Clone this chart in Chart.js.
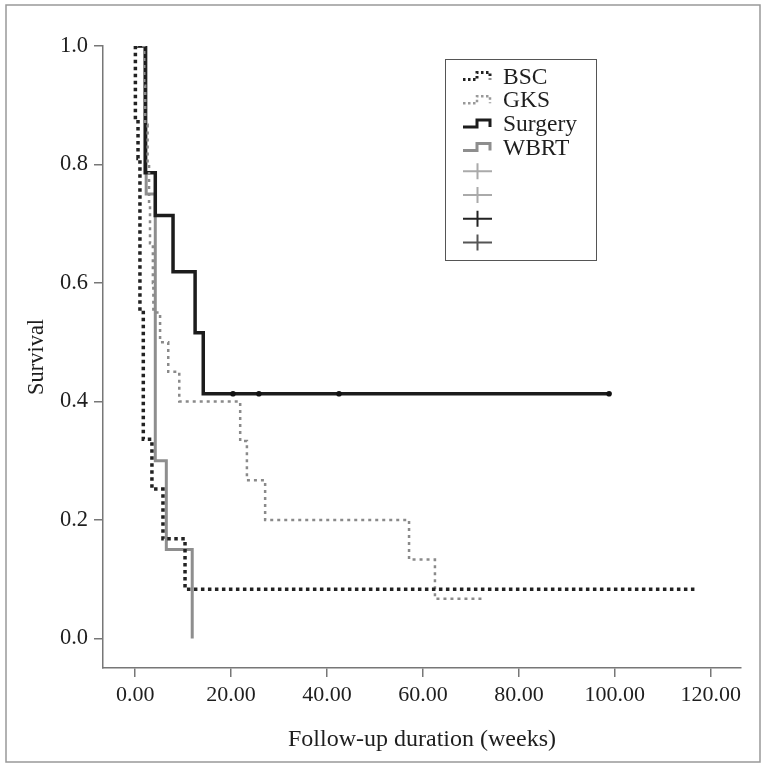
<!DOCTYPE html>
<html>
<head>
<meta charset="utf-8">
<script src="https://cdn.jsdelivr.net/npm/chart.js@4.4.0/dist/chart.umd.min.js"></script>
<style>
  body { margin: 0; background: #fff; }
  #wrap { width: 766px; height: 768px; }
</style>
</head>
<body>
<div id="wrap"><canvas id="myChart" width="766" height="768"></canvas></div>
<script>
var groupNames = ['BSC', 'GKS', 'Surgery', 'WBRT'];

// survival curves (time in weeks, survival fraction)
var bscTime = [0, 0.05, 0.6, 1.0, 1.7, 3.5, 5.8, 10.4, 117.0];
var bscSurv = [1.0, 0.875, 0.81, 0.55, 0.336, 0.252, 0.168, 0.083, 0.083];

var gksTime = [0, 1.9, 2.1, 2.6, 2.9, 3.1, 3.7, 3.8, 5.2, 6.9, 9.2, 21.9, 23.3, 27.1, 57.1, 62.5, 72.3];
var gksSurv = [1.0, 0.933, 0.867, 0.8, 0.733, 0.667, 0.6, 0.55, 0.5, 0.45, 0.4, 0.333, 0.267, 0.2, 0.133, 0.067, 0.067];

var surgTime = [0, 2.1, 4.2, 7.9, 12.5, 14.2, 20.4, 25.8, 42.5, 98.8];
var surgSurv = [1.0, 0.786, 0.714, 0.619, 0.516, 0.413, 0.413, 0.413, 0.413, 0.413];
var surgCensor = [0, 0, 0, 0, 0, 0, 1, 1, 1, 1];

var wbrtTime = [0, 2.3, 4.2, 6.5, 11.9];
var wbrtSurv = [1.0, 0.75, 0.3, 0.15, 0.0];

var xTicks = [0, 20, 40, 60, 80, 100, 120];
var yTicks = [0, 0.2, 0.4, 0.6, 0.8, 1.0];

var serif = "'Liberation Serif', 'DejaVu Serif', serif";
var textColor = '#1e1e1e';
var axisColor = '#777';

function toPoints(times, surv) {
    var pts = [];
    for (var i = 0; i < times.length; i++) {
        pts.push({ x: times[i], y: surv[i] });
    }
    return pts;
}

// legend entries: style of the little sample drawn in the box
var legendItems = [
    { label: groupNames[0], kind: 'step', color: '#222', width: 3, dash: [2.5, 2.5] },
    { label: groupNames[1], kind: 'step', color: '#999', width: 2.5, dash: [2.5, 2.5] },
    { label: groupNames[2], kind: 'step', color: '#1c1c1c', width: 3, dash: [] },
    { label: groupNames[3], kind: 'step', color: '#8e8e8e', width: 3, dash: [] },
    { label: '', kind: 'cross', color: '#aaa' },
    { label: '', kind: 'cross', color: '#aaa' },
    { label: '', kind: 'cross', color: '#222' },
    { label: '', kind: 'cross', color: '#555' }
];

var framePlugin = {
    id: 'frame',
    beforeDraw: function (chart) {
        var ctx = chart.ctx;
        ctx.save();
        ctx.fillStyle = '#fff';
        ctx.fillRect(0, 0, chart.width, chart.height);
        ctx.strokeStyle = '#999';
        ctx.lineWidth = 1.5;
        ctx.strokeRect(6, 5, 754, 757);
        ctx.restore();
    }
};

var boxLegend = {
    id: 'boxLegend',
    afterDraw: function (chart) {
        var ctx = chart.ctx;
        var bx = 445.5, by = 59.5, bw = 151, bh = 201;
        ctx.save();
        ctx.fillStyle = '#fff';
        ctx.fillRect(bx, by, bw, bh);
        ctx.strokeStyle = '#555';
        ctx.lineWidth = 1;
        ctx.strokeRect(bx, by, bw, bh);

        for (var i = 0; i < legendItems.length; i++) {
            var it = legendItems[i];
            var cy = 76.5 + i * 23.7;
            var x0 = 463;
            ctx.setLineDash([]);
            if (it.kind === 'step') {
                ctx.strokeStyle = it.color;
                ctx.lineWidth = it.width;
                ctx.setLineDash(it.dash);
                ctx.beginPath();
                ctx.moveTo(x0, cy + 3);
                ctx.lineTo(x0 + 14, cy + 3);
                ctx.lineTo(x0 + 14, cy - 4);
                ctx.lineTo(x0 + 27, cy - 4);
                ctx.lineTo(x0 + 27, cy + 3);
                ctx.stroke();
            } else {
                ctx.strokeStyle = it.color;
                ctx.lineWidth = 2;
                ctx.beginPath();
                ctx.moveTo(x0, cy);
                ctx.lineTo(x0 + 29, cy);
                ctx.moveTo(x0 + 14.5, cy - 8);
                ctx.lineTo(x0 + 14.5, cy + 8);
                ctx.stroke();
            }
            if (it.label) {
                ctx.fillStyle = textColor;
                ctx.font = '23.5px ' + serif;
                ctx.textBaseline = 'middle';
                ctx.textAlign = 'left';
                ctx.fillText(it.label, 503, cy + 1);
            }
        }
        ctx.restore();
    }
};

var config = {
    type: 'line',
    data: {
        datasets: [{
            label: groupNames[0],
            data: toPoints(bscTime, bscSurv),
            stepped: 'before',
            borderColor: '#222',
            borderWidth: 3.5,
            borderDash: [3.5, 3.5],
            pointRadius: 0,
            fill: false
        }, {
            label: groupNames[1],
            data: toPoints(gksTime, gksSurv),
            stepped: 'before',
            borderColor: '#8a8a8a',
            borderWidth: 2.5,
            borderDash: [3, 4],
            pointRadius: 0,
            fill: false
        }, {
            label: groupNames[2],
            data: toPoints(surgTime, surgSurv),
            stepped: 'before',
            borderColor: '#1c1c1c',
            borderWidth: 3.5,
            pointRadius: surgCensor.map(function (c) { return c ? 2.8 : 0; }),
            pointBackgroundColor: '#111',
            pointBorderWidth: 0,
            fill: false
        }, {
            label: groupNames[3],
            data: toPoints(wbrtTime, wbrtSurv),
            stepped: 'before',
            borderColor: '#8e8e8e',
            borderWidth: 3,
            pointRadius: 0,
            fill: false
        }]
    },
    options: {
        responsive: false,
        animation: false,
        layout: { padding: { top: 46, right: 25, bottom: 0, left: 0 } },
        plugins: {
            legend: { display: false },
            tooltip: { enabled: false }
        },
        scales: {
            x: {
                type: 'linear',
                min: -6.7,
                max: 126.3,
                afterBuildTicks: function (s) {
                    s.ticks = xTicks.map(function (v) { return { value: v }; });
                },
                afterFit: function (s) { s.height = 100; },
                ticks: {
                    callback: function (v) { return v.toFixed(2); },
                    font: { family: serif, size: 22 },
                    color: textColor,
                    padding: 5,
                    maxRotation: 0,
                    autoSkip: false
                },
                grid: { drawOnChartArea: false, tickLength: 9, color: axisColor, lineWidth: 1.5 },
                border: { color: axisColor, width: 1.5 },
                title: {
                    display: true,
                    text: 'Follow-up duration (weeks)',
                    font: { family: serif, size: 24 },
                    color: textColor,
                    padding: { top: 0, bottom: 14 }
                }
            },
            y: {
                min: -0.05,
                max: 1.0,
                afterBuildTicks: function (s) {
                    s.ticks = yTicks.map(function (v) { return { value: v }; });
                },
                afterFit: function (s) { s.width = 103; },
                ticks: {
                    callback: function (v) { return v.toFixed(1); },
                    font: { family: serif, size: 22.5 },
                    color: textColor,
                    padding: 6
                },
                grid: { drawOnChartArea: false, tickLength: 9, color: axisColor, lineWidth: 1.5 },
                border: { color: axisColor, width: 1.5 },
                title: {
                    display: true,
                    text: 'Survival',
                    font: { family: serif, size: 22.5 },
                    color: textColor,
                    padding: { top: 24, bottom: 0 }
                }
            }
        }
    },
    plugins: [framePlugin, boxLegend]
};

var ctx = document.getElementById('myChart').getContext('2d');
var myChart = new Chart(ctx, config);
</script>
</body>
</html>
